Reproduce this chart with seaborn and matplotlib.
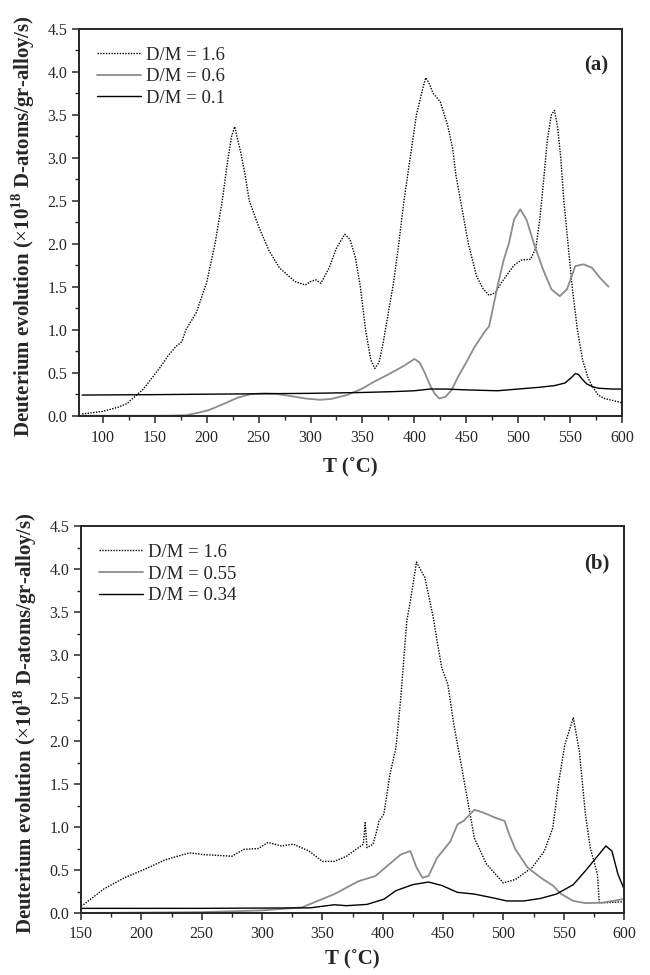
import numpy as np
import pandas as pd
import matplotlib
matplotlib.use("Agg")
import matplotlib.pyplot as plt
import seaborn as sns
from matplotlib.ticker import MultipleLocator, FormatStrFormatter

# ---- panel (a) ----
a16_T = [80, 100, 115, 123, 139, 155, 163, 170, 176, 180, 190, 200, 208, 215, 220, 224, 227, 230, 233, 237,
         241, 250, 260, 270, 285, 295, 300, 305, 310, 318, 325, 333, 338, 343, 348, 353, 358, 362, 366, 370,
         375, 380, 385, 390, 396, 402, 408, 411, 414, 418, 425, 432, 437, 440, 446, 452, 460, 466, 472, 478,
         484, 490, 496, 503, 512, 517, 521, 525, 528, 532, 535, 538, 541, 544, 548, 552, 557, 562, 567, 571,
         577, 583, 590, 600]
a16_v = [0.02, 0.05, 0.1, 0.14, 0.31, 0.56, 0.7, 0.8, 0.86, 1.0, 1.2, 1.55, 2.0, 2.5, 2.95, 3.25, 3.36, 3.2, 3.05, 2.8,
         2.5, 2.2, 1.92, 1.72, 1.56, 1.52, 1.56, 1.58, 1.54, 1.72, 1.95, 2.11, 2.05, 1.85, 1.5, 1.0, 0.65, 0.55, 0.62, 0.85,
         1.2, 1.55, 2.0, 2.5, 3.0, 3.5, 3.8, 3.93, 3.87, 3.75, 3.65, 3.38, 3.1, 2.8, 2.4, 2.0, 1.62, 1.48, 1.4, 1.43,
         1.55, 1.65, 1.75, 1.81, 1.82, 1.95, 2.3, 2.8, 3.2, 3.5, 3.55, 3.35, 3.0, 2.5, 2.0, 1.5, 1.0, 0.65, 0.45, 0.35,
         0.24, 0.2, 0.18, 0.15]

a06_T = [80, 120, 160, 180, 190, 202, 215, 230, 242, 255, 266, 280, 295, 309, 320, 335, 349, 362, 375, 390,
         400, 405, 410, 416, 420, 424, 430, 436, 442, 450, 458, 468, 472, 480, 486, 491, 496, 502, 508, 516,
         524, 532, 540, 547, 555, 563, 571, 579, 587]
a06_v = [0.0, 0.0, 0.0, 0.005, 0.03, 0.065, 0.13, 0.21, 0.25, 0.26, 0.255, 0.23, 0.2, 0.185, 0.195, 0.24, 0.31, 0.4, 0.48, 0.58,
         0.66, 0.62, 0.5, 0.33, 0.25, 0.2, 0.22, 0.3, 0.45, 0.62, 0.8, 0.98, 1.04, 1.5, 1.81, 2.0, 2.28, 2.4, 2.28, 1.97,
         1.7, 1.47, 1.39, 1.47, 1.74, 1.76, 1.72, 1.6, 1.5]

a01_T = [80, 150, 200, 250, 300, 350, 380, 400, 415, 430, 450, 480, 500, 520, 535, 545, 551, 555, 558, 562, 566, 571, 577, 590, 600]
a01_v = [0.24, 0.245, 0.25, 0.255, 0.26, 0.27, 0.28, 0.29, 0.31, 0.31, 0.3, 0.29, 0.31, 0.33, 0.35, 0.38, 0.44, 0.49, 0.48, 0.42, 0.37, 0.34, 0.32, 0.31, 0.31]

# ---- panel (b) ----
b16_T = [150, 152, 169, 186, 203, 220, 240, 251, 275, 285, 297, 305, 316, 326, 339, 350, 360, 370, 380, 384,
         385.5, 387, 392, 395, 397, 401, 406, 411, 415, 420, 423, 428, 435, 442, 445, 449, 454, 459, 464, 469,
         476, 486, 500, 510, 524, 534, 541, 546, 551, 558, 563, 568, 572, 578, 579.5, 585, 600]
b16_v = [0.08, 0.096, 0.28, 0.41, 0.51, 0.62, 0.7, 0.68, 0.66, 0.74, 0.75, 0.82, 0.78, 0.8, 0.72, 0.6, 0.6, 0.66, 0.76, 0.8,
         1.05, 0.76, 0.8, 0.95, 1.07, 1.15, 1.61, 1.92, 2.5, 3.4, 3.63, 4.08, 3.9, 3.43, 3.17, 2.85, 2.66, 2.19, 1.81, 1.42,
         0.87, 0.57, 0.35, 0.39, 0.53, 0.72, 0.99, 1.53, 1.96, 2.27, 1.88, 1.15, 0.76, 0.45, 0.12, 0.12, 0.13]

b055_T = [150, 200, 250, 300, 333, 360, 380, 394, 404, 415, 423, 428, 433, 438, 445, 456, 462, 467, 476, 483,
          493, 501, 505, 510, 520, 531, 541, 548, 558, 568, 582, 599]
b055_v = [0.0, 0.005, 0.01, 0.03, 0.065, 0.22, 0.37, 0.43, 0.55, 0.68, 0.72, 0.53, 0.41, 0.43, 0.64, 0.83, 1.03, 1.07, 1.2, 1.17,
          1.11, 1.07, 0.91, 0.74, 0.53, 0.41, 0.32, 0.22, 0.14, 0.115, 0.12, 0.16]

b034_T = [150, 250, 340, 360, 370, 387, 401, 411, 425, 438, 449, 462, 476, 490, 503, 517, 531, 544, 558, 568,
          578, 585, 590, 595, 600]
b034_v = [0.054, 0.054, 0.06, 0.096, 0.085, 0.1, 0.16, 0.26, 0.33, 0.36, 0.32, 0.24, 0.22, 0.18, 0.14, 0.14, 0.17, 0.22, 0.33, 0.49,
          0.66, 0.78, 0.72, 0.45, 0.28]

panels = [
    dict(tag="(a)", xlim=(77, 600), xmajor=[100, 150, 200, 250, 300, 350, 400, 450, 500, 550, 600],
         tickpad=5.5, xlab_y=-0.108,
         series=[("D/M = 1.6", a16_T, a16_v), ("D/M = 0.6", a06_T, a06_v), ("D/M = 0.1", a01_T, a01_v)]),
    dict(tag="(b)", xlim=(150, 600), xmajor=[150, 200, 250, 300, 350, 400, 450, 500, 550, 600],
         tickpad=4.5, xlab_y=-0.094,
         series=[("D/M = 1.6", b16_T, b16_v), ("D/M = 0.55", b055_T, b055_v), ("D/M = 0.34", b034_T, b034_v)]),
]

styles = [
    dict(color="black", linestyle=(0, (1, 1)), linewidth=1.0),
    dict(color="#8c8c8c", linestyle="-", linewidth=1.3),
    dict(color="black", linestyle="-", linewidth=1.0),
]

sns.set_style("ticks")
plt.rcParams["font.family"] = ["Liberation Serif", "DejaVu Serif"]
plt.rcParams["mathtext.fontset"] = "custom"
plt.rcParams["mathtext.rm"] = "Liberation Serif"
plt.rcParams["mathtext.bf"] = "Liberation Serif:bold"

fig = plt.figure(figsize=(6.5, 9.75), dpi=100)
# axes boxes in figure fractions
boxes = [[79 / 650, 1 - 415.7 / 975, 543 / 650, 387 / 975],
         [81 / 650, 1 - 913 / 975, 543 / 650, 387 / 975]]

for box, p in zip(boxes, panels):
    ax = fig.add_axes(box)
    for (label, T, v), st in zip(p["series"], styles):
        df = pd.DataFrame({"T": T, "v": v})
        sns.lineplot(data=df, x="T", y="v", ax=ax, label=label, estimator=None, **st)
    ax.set_xlim(*p["xlim"])
    ax.set_ylim(0, 4.5)
    ax.set_xticks(p["xmajor"])
    ax.xaxis.set_minor_locator(MultipleLocator(25))
    ax.yaxis.set_major_locator(MultipleLocator(0.5))
    ax.yaxis.set_minor_locator(MultipleLocator(0.25))
    ax.yaxis.set_major_formatter(FormatStrFormatter("%.1f"))
    ax.tick_params(which="major", length=5, width=1.1, labelsize=11.5, direction="out")
    ax.tick_params(axis="x", which="major", pad=p["tickpad"])
    ax.tick_params(which="minor", length=3, width=1.0, direction="out")
    for s in ax.spines.values():
        s.set_linewidth(1.4)
    ax.set_xlabel("T (˚C)", fontsize=15, fontweight="bold")
    ax.xaxis.set_label_coords(0.5, p["xlab_y"])
    ax.set_ylabel(r"Deuterium evolution ($\times$10$^{\mathbf{18}}$ D-atoms/gr-alloy/s)",
                  fontsize=15, fontweight="bold")
    ax.yaxis.set_label_coords(-0.078, 0.49)
    ax.text(0.974, 0.904, p["tag"], transform=ax.transAxes, ha="right", va="center",
            fontsize=15, fontweight="bold")
    ax.legend(loc="upper left", frameon=False, fontsize=13.5, handlelength=2.35,
              handletextpad=0.3, labelspacing=0.24, borderaxespad=0.6, borderpad=0.35)

fig.savefig("out.png", dpi=100)
